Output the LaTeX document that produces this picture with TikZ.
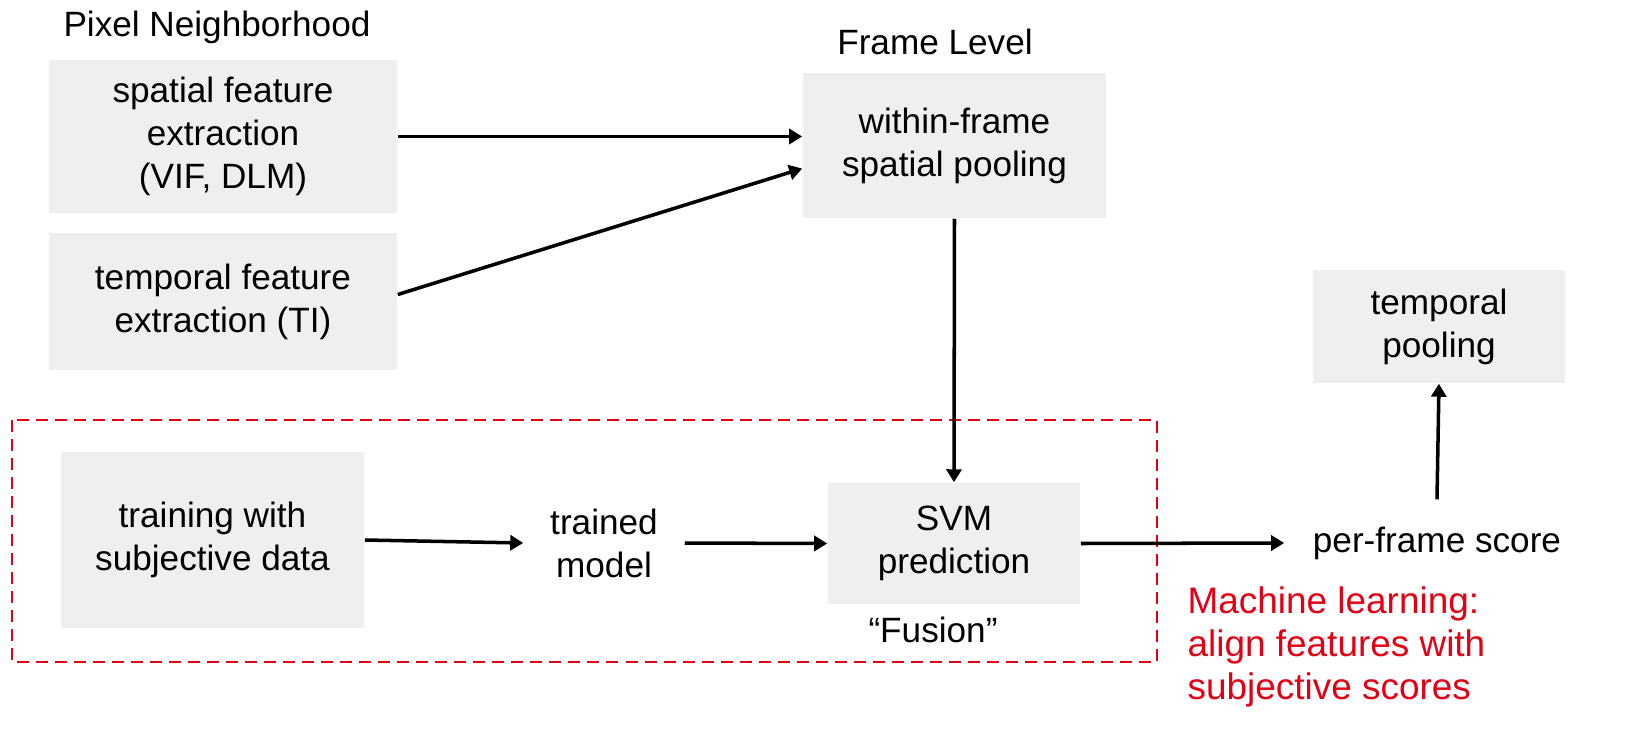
\documentclass[tikz,border=0pt]{standalone}
\usepackage{fontspec}
\setmainfont{Liberation Sans}
\usepackage{xcolor}
\usepackage{tikz}
\usetikzlibrary{arrows.meta}
\definecolor{boxgray}{RGB}{239,239,239}
\definecolor{mlred}{RGB}{228,0,20}
\tikzset{stagebox/.style={fill=boxgray,inner sep=0pt,align=center},
         plain/.style={inner sep=0pt,align=center},
         flow/.style={-{Triangle[length=0.13cm,width=0.15cm]},line width=1pt},
         mlframe/.style={draw=mlred,dashed,dash pattern=on 0.12cm off 0.07cm,line width=0.6pt}}

\begin{document}
\begin{tikzpicture}[x=0.01cm,y=-0.01cm,font=\fontsize{10}{12.2}\selectfont]
\useasboundingbox (0,0) rectangle (1638,742);
\node (pixel) at (217,27) {Pixel Neighborhood};
\node (frame) at (935,42) {Frame Level};
\node[stagebox,minimum width=3.48cm,minimum height=1.53cm] (spatial) at (223,136.5) {spatial feature\\extraction\\(VIF, DLM)};
\node[stagebox,minimum width=3.48cm,minimum height=1.37cm] (temporal) at (223,301.5) {temporal feature\\extraction (TI)};
\node[stagebox,minimum width=3.03cm,minimum height=1.45cm] (within) at (954.5,145.5) {within-frame\\spatial pooling};
\node[stagebox,minimum width=2.52cm,minimum height=1.13cm] (tpool) at (1439,326.5) {temporal\\pooling};
\node[stagebox,minimum width=3.03cm,minimum height=1.76cm] (train) at (212.5,540) {training with\\subjective data};
\node[plain,minimum width=1.6cm] (model) at (604,543) {trained\\model};
\node[stagebox,minimum width=2.52cm,minimum height=1.21cm] (svm) at (954,543.5) {SVM\\prediction};
\node[plain,minimum width=3.04cm,minimum height=0.86cm] (score) at (1437,543) {per-frame score};
\node (fusion) at (933,630) {``Fusion''};
\node[plain,anchor=north west,align=left,text=mlred,font=\fontsize{10.5}{12.2}\selectfont] (ml) at (1187,586) {Machine learning:\\align features with\\subjective scores};
% dashed frame round the learning part
\draw[mlframe] (12,420) rectangle (1157,662);
\draw[flow] (spatial.east) -- (within.west |- spatial.east);
\draw[flow] ([yshift=0.07cm]temporal.east) -- ([yshift=-0.23cm]within.west);
\draw[flow] (within.south) -- (svm.north);
\draw[flow] (train.east) -- (model.west);
\draw[flow] (model.east) -- (svm.west);
\draw[flow] (svm.east) -- (score.west);
\draw[flow] (score.north) -- (tpool.south);
\end{tikzpicture}
\end{document}
